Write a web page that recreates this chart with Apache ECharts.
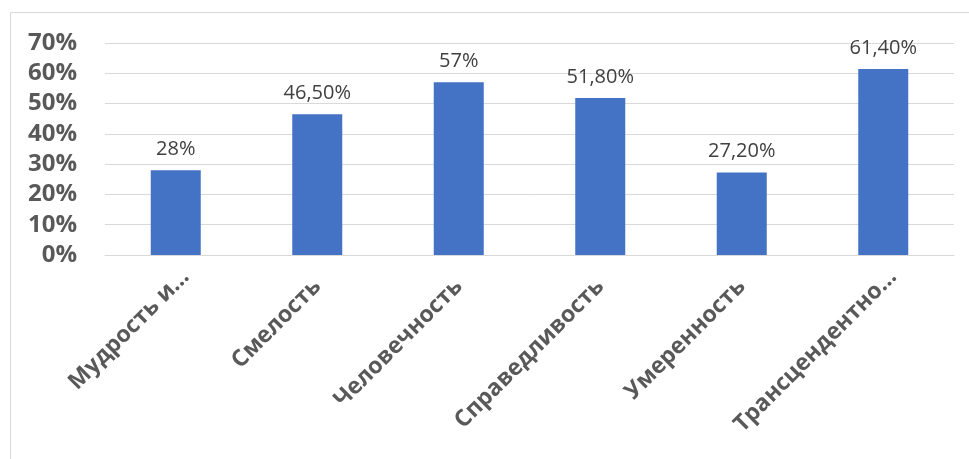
<!DOCTYPE html>
<html>
<head>
<meta charset="utf-8">
<script src="https://cdn.jsdelivr.net/npm/echarts@6/dist/echarts.min.js"></script>
<style>
html,body{margin:0;padding:0;background:#fff;}
#chart{width:969px;height:459px;}
</style>
</head>
<body>
<div id="chart"></div>
<script>
const categories = ['Мудрость и…', 'Смелость', 'Человечность', 'Справедливость', 'Умеренность', 'Трансцендентно…'];
const values = [28, 46.5, 57, 51.8, 27.2, 61.4];
const yTicks = [0, 10, 20, 30, 40, 50, 60, 70];

const chart = echarts.init(document.getElementById('chart'));
chart.setOption({
  animation: false,
  backgroundColor: '#ffffff',
  graphic: [{
    type: 'rect',
    shape: { x: 10.5, y: 12.5, width: 1200, height: 1200 },
    style: { fill: 'none', stroke: '#d9d9d9', lineWidth: 1 },
    silent: true
  }],
  grid: { left: 105, right: 15, top: 43, bottom: 204, containLabel: false },
  xAxis: {
    type: 'category',
    data: categories.map(c => c.endsWith('…')
      ? { value: c, textStyle: { padding: [0, -14, 0, 0] } }
      : c),
    axisLine: { show: true, lineStyle: { color: '#d9d9d9', width: 1 } },
    axisTick: { show: false },
    axisLabel: {
      rotate: 45,
      margin: 28,
      interval: 0,
      color: '#595959',
      fontFamily: 'Open Sans',
      fontWeight: 'bold',
      fontSize: 23
    }
  },
  yAxis: {
    type: 'value',
    min: yTicks[0],
    max: yTicks[yTicks.length - 1],
    interval: 10,
    axisLine: { show: false },
    axisTick: { show: false },
    splitLine: { lineStyle: { color: '#d9d9d9', width: 1 } },
    axisLabel: {
      formatter: '{value}%',
      margin: 28,
      color: '#595959',
      fontFamily: 'Open Sans',
      fontWeight: 'bold',
      fontSize: 24
    }
  },
  series: [{
    type: 'bar',
    data: values,
    barWidth: 50,
    itemStyle: { color: '#4472C4' },
    label: {
      show: true,
      position: 'top',
      distance: 11,
      color: '#404040',
      fontFamily: 'Open Sans',
      fontSize: 20,
      formatter: p => (p.value % 1 === 0 ? p.value + '%' : p.value.toFixed(2).replace('.', ',') + '%')
    }
  }]
});
</script>
</body>
</html>
